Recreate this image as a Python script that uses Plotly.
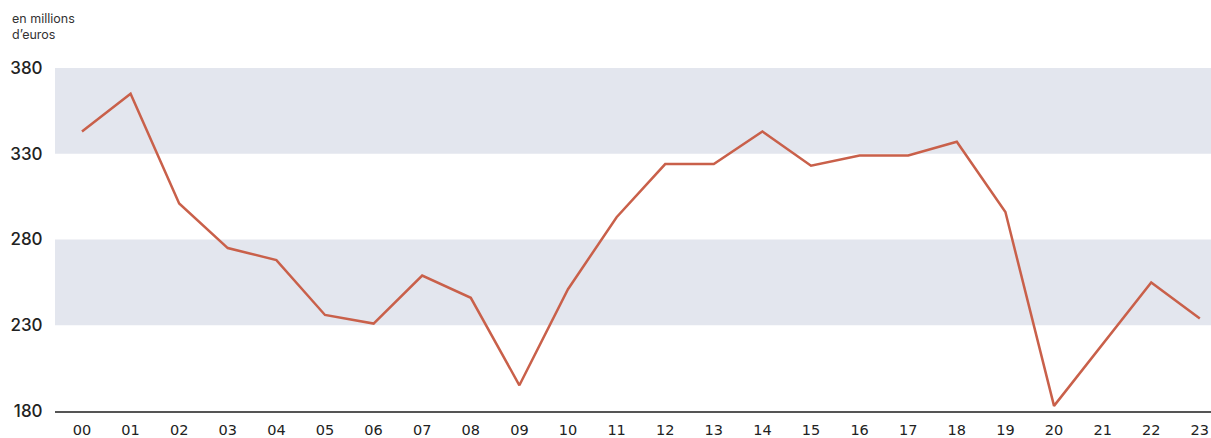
import plotly.graph_objects as go

years = ["00","01","02","03","04","05","06","07","08","09","10","11",
         "12","13","14","15","16","17","18","19","20","21","22","23"]
values = [343, 365, 301, 275, 268, 236, 231, 259, 246, 195, 251, 293,
          324, 324, 343, 323, 329, 329, 337, 296, 183, 219, 255, 234]
y_ticks = [180, 230, 280, 330, 380]
bands = [(230, 280), (330, 380)]

W, H = 1211, 438
ml, mr, mt, mb = 55, 0, 68, 27
pw, ph = W - ml - mr, H - mt - mb

fig = go.Figure()
fig.add_trace(go.Scatter(
    x=list(range(len(years))), y=values, mode="lines",
    line=dict(color="#c9604a", width=2.5), hoverinfo="skip", showlegend=False))

for lo, hi in bands:
    fig.add_shape(type="rect", xref="paper", yref="y", x0=0, x1=1, y0=lo, y1=hi,
                  fillcolor="#e3e6ee", line_width=0, layer="below")

fig.add_annotation(text="en millions<br>d’euros", xref="paper", yref="paper",
                   x=(10 - ml) / pw, y=(H - mb - 9) / ph, xanchor="left", yanchor="top",
                   align="left", showarrow=False,
                   font=dict(family="Inter", size=12.5, color="#333333"))

fig.update_layout(
    width=W, height=H, margin=dict(l=ml, r=mr, t=mt, b=mb),
    paper_bgcolor="white", plot_bgcolor="white",
    xaxis=dict(range=[-0.555, 23.23], tickmode="array", tickvals=list(range(len(years))),
               ticktext=years, showgrid=False, zeroline=False, automargin=False,
               showline=True, linecolor="#555555", linewidth=1.5,
               ticks="outside", ticklen=5, tickcolor="rgba(0,0,0,0)",
               tickfont=dict(family="DejaVu Sans", size=14.5, color="#222222")),
    yaxis=dict(range=[180, 380], tickmode="array", tickvals=y_ticks,
               ticktext=[str(v) for v in y_ticks], showgrid=False, zeroline=False,
               automargin=False,
               showline=False, ticks="outside", ticklen=8, tickcolor="rgba(0,0,0,0)",
               tickfont=dict(family="Inter", size=17, color="#222222", weight=500)),
)

fig.write_html("out.html", config={"displayModeBar": False},
               post_script="document.body.style.margin='0';document.body.style.overflow='hidden';")
